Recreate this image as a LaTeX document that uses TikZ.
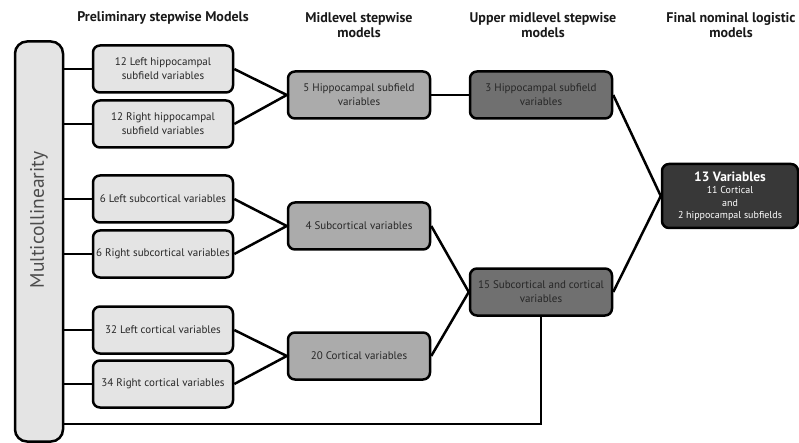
\documentclass[tikz,border=0pt]{standalone}
\usepackage{fontspec}
\setmainfont{PT Sans}
\definecolor{levone}{HTML}{E4E4E4}
\definecolor{levtwo}{HTML}{ABABAB}
\definecolor{levthree}{HTML}{707070}
\definecolor{levfinal}{HTML}{383838}
\definecolor{boxtext}{HTML}{262626}
\begin{document}
\begin{tikzpicture}[x=1pt,y=-1pt,
    box/.style={draw, line width=2.5pt, rounded corners=7pt, align=center, text=boxtext,
        font=\fontsize{11}{14}\selectfont, minimum width=140pt, minimum height=47pt, inner sep=2pt},
    boxone/.style={box, fill=levone},
    boxtwo/.style={box, fill=levtwo, minimum width=142pt},
    boxthree/.style={box, fill=levthree, minimum width=142pt},
    head/.style={align=center, text=black!90, font=\bfseries\fontsize{14}{15}\selectfont},
    link/.style={line width=2.5pt}]
\useasboundingbox (0,0) rectangle (799,443);
% column headings
\node [head] (h1) at (163,18) {Preliminary stepwise Models};
\node [head] (h2) at (359,25) {Midlevel stepwise\\models};
\node [head] (h3) at (543,25) {Upper midlevel stepwise\\models};
\node [head] (h4) at (731,25) {Final nominal logistic\\models};
% multicollinearity bar
\node [draw, line width=2.5pt, rounded corners=12pt, fill=levone, minimum width=48pt, minimum height=400pt] (multi) at (39,241.5) {};
\node [rotate=90, text=black!70, font=\fontsize{19.5}{19.5}\selectfont] (multitxt) at (39,220) {Multicollinearity};
% preliminary models
\node [boxone] (hipL) at (163,69) {12 Left hippocampal\\subfield variables};
\node [boxone] (hipR) at (163,124) {12 Right hippocampal\\subfield variables};
\node [boxone] (subL) at (163,199) {6 Left subcortical variables};
\node [boxone] (subR) at (163,254) {6 Right subcortical variables};
\node [boxone] (corL) at (163,330) {32 Left cortical variables};
\node [boxone] (corR) at (163,384) {34 Right cortical variables};
% midlevel models
\node [boxtwo] (hip) at (359,95) {5 Hippocampal subfield\\variables};
\node [boxtwo] (sub) at (359,226) {4 Subcortical variables};
\node [boxtwo] (cor) at (359,356) {20 Cortical variables};
% upper midlevel models
\node [boxthree] (hipup) at (541,95) {3 Hippocampal subfield\\variables};
\node [boxthree] (subcor) at (541,292) {15 Subcortical and cortical\\variables};
% final model
\node [box, fill=levfinal, text=white, minimum width=136pt, minimum height=64pt,
    font=\fontsize{10}{12.5}\selectfont] (final) at (730,196)
    {{\bfseries\fontsize{13.5}{15}\selectfont 13 Variables}\\11 Cortical\\and\\2 hippocampal subfields};
% connectors
\foreach \n in {hipL,hipR,subL,subR,corL,corR}
    \draw [link] (multi.east |- \n.west) -- (\n.west);
\draw [link] (hipL.east) -- (hip.west) -- (hipR.east);
\draw [link] (subL.east) -- (sub.west) -- (subR.east);
\draw [link] (corL.east) -- (cor.west) -- (corR.east);
\draw [link] (hip.east) -- (hipup.west);
\draw [link] (sub.east) -- (subcor.west) -- (cor.east);
\draw [link] (hipup.east) -- (final.west) -- (subcor.east);
\coordinate (bend) at (541,424);
\draw [link] (subcor.south) -- (bend) -- (multi.east |- bend);
\end{tikzpicture}
\end{document}
